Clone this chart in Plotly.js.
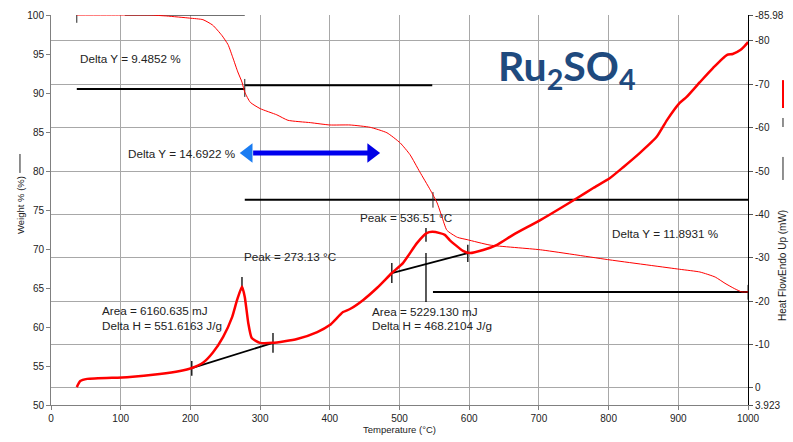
<!DOCTYPE html>
<html>
<head>
<meta charset="utf-8">
<script src="https://cdn.plot.ly/plotly-3.0.1.min.js"></script>
<style>html,body{margin:0;padding:0;background:#fff;}#chart{width:793px;height:442px;}</style>
</head>
<body>
<div id="chart"></div>
<script>
// ---- Weight % curve (left axis) ----
const weightT = [37, 100, 142, 166, 199, 218, 232, 245, 254, 261, 268, 274, 278, 286, 300, 324, 340, 372, 400, 429, 458, 482, 501, 515, 529, 544, 554, 561, 568, 583, 597, 630, 702, 802, 902, 931, 953, 967, 981, 991, 1000];
const weightW = [100, 100, 100, 99.87, 99.6, 99.4, 98.7, 97.4, 96.2, 94.5, 92.7, 91.4, 90.1, 88.8, 88.0, 87.2, 86.5, 86.2, 85.9, 85.9, 85.6, 84.9, 83.6, 82.1, 79.9, 77.6, 75.9, 74.1, 72.4, 71.5, 71.2, 70.5, 69.9, 68.6, 67.4, 67.05, 66.4, 65.6, 64.9, 64.5, 64.5];

// ---- Heat flow curve (right axis, Endo Up) ----
const heatT = [37, 42, 52, 109, 156, 185, 202, 218, 232, 247, 260, 267, 274, 278, 283, 288, 300, 318, 353, 382, 400, 419, 429, 448, 468, 489, 505, 525, 539, 547, 558, 565, 572, 591, 601, 620, 640, 663, 702, 755, 778, 802, 821, 845, 869, 884, 902, 912, 931, 950, 970, 978, 989, 999, 1000];
const heatH = [-0.2, -1.6, -2.1, -2.5, -3.2, -3.9, -4.6, -5.8, -8.1, -11.8, -16.4, -20.3, -23.4, -21.0, -15.0, -11.5, -10.4, -10.4, -11.3, -12.9, -14.5, -17.5, -18.2, -20.3, -23.1, -26.5, -28.8, -33.4, -35.7, -36.0, -35.7, -35.3, -34.1, -31.6, -31.1, -31.8, -33.0, -35.3, -38.7, -43.8, -46.1, -48.4, -50.9, -54.2, -57.9, -61.8, -65.7, -67.1, -70.5, -73.8, -76.8, -77.0, -77.9, -79.5, -79.8];

// ---- Peak baselines (heat flow units) ----
const base1T = [202, 318.5];
const base1H = [-4.6, -10.4];
const base2T = [489, 598];
const base2H = [-26.5, -31.1];
// short vertical markers on heat-flow analysis
const markT2  = [202, 318.5, 274, 489, 598, 538, 538];
const markLo2 = [-6.2, -12.7, -25.6, -28.8, -33.0, -36.9, -31.1];
const markHi2 = [-2.8, -8.1, -22.5, -24.2, -29.05, -33.7, -19.8];

// ---- Weight step lines (weight units) ----
const stepTopT = [106, 278];      const stepTopW = [100, 100];
const step1T = [37, 278];         const step1W = [90.5, 90.5];
const step2T = [278, 547];        const step2W = [91.0, 91.0];
const step3T = [278, 1000];       const step3W = [76.3, 76.3];
const step4T = [548, 1000];       const step4W = [64.5, 64.5];
const markT1  = [37, 278, 548, 1000];
const markLo1 = [99.0, 89.5, 75.3, 63.5];
const markHi1 = [100, 91.8, 77.3, 65.4];

// ---- Double arrow (weight units) ----
const arrowLineT = [290, 456];
const arrowW = 82.3;
const arrowHeadT = [283, 460];

// ---- Axis ticks ----
const xTicks = [0, 100, 200, 300, 400, 500, 600, 700, 800, 900, 1000];
const yTicks = [50, 55, 60, 65, 70, 75, 80, 85, 90, 95, 100];
const y2Ticks = [-85.98, -80, -70, -60, -50, -40, -30, -20, -10, 0, 3.923];
const y2TickText = ['-85.98', '-80', '-70', '-60', '-50', '-40', '-30', '-20', '-10', '0', '3.923'];

// ---- Labels ----
const labels = [
  {t: 'Delta Y = 9.4852 %', x: 38.7, y: 94.36},
  {t: 'Delta Y = 14.6922 %', x: 107.6, y: 82.3},
  {t: 'Peak = 273.13 °C', x: 274, y: 69.0},
  {t: 'Peak = 536.51 °C', x: 440.5, y: 74.0},
  {t: 'Delta Y = 11.8931 %', x: 802, y: 72.05},
  {t: 'Area = 6160.635 mJ', x: 70.3, y: 62.1},
  {t: 'Delta H = 551.6163 J/g', x: 70.3, y: 60.13},
  {t: 'Area = 5229.130 mJ', x: 457.7, y: 62.05},
  {t: 'Delta H = 468.2104 J/g', x: 457.7, y: 60.13}
];

function vmarks(ts, lo, hi) {
  const xs = [], ys = [];
  ts.forEach((t, i) => { xs.push(t, t, null); ys.push(lo[i], hi[i], null); });
  return {x: xs, y: ys};
}

const FONT = 'Liberation Sans, Arial, sans-serif';
const traces = [];
function line(x, y, axis, color, width, smooth) {
  const ln = {color: color, width: width};
  if (smooth) { ln.shape = 'spline'; ln.smoothing = 0.5; }
  traces.push({x: x, y: y, yaxis: axis, type: 'scatter', mode: 'lines',
    line: ln, hoverinfo: 'skip', showlegend: false, cliponaxis: false});
}
line(stepTopT, stepTopW, 'y', '#404040', 1.5);
line(step1T, step1W, 'y', '#000', 2);
line(step2T, step2W, 'y', '#000', 2);
line(step3T, step3W, 'y', '#000', 2);
line(step4T, step4W, 'y', '#000', 2);
const m1 = vmarks(markT1, markLo1, markHi1);
traces.push({x: m1.x, y: m1.y, yaxis: 'y', mode: 'lines', line: {color: '#222', width: 1}, showlegend: false, hoverinfo: 'skip'});
line(base1T, base1H, 'y2', '#000', 1.8);
line(base2T, base2H, 'y2', '#000', 1.8);
const m2 = vmarks(markT2, markLo2, markHi2);
traces.push({x: m2.x, y: m2.y, yaxis: 'y2', mode: 'lines', line: {color: '#000', width: 1.3}, showlegend: false, hoverinfo: 'skip'});
line(weightT, weightW, 'y', '#ff0000', 1, true);
line(heatT, heatH, 'y2', '#ff0000', 2.5, true);
// arrow
line(arrowLineT, [arrowW, arrowW], 'y', '#0000ee', 5);
traces.push({x: [arrowHeadT[0]], y: [arrowW], yaxis: 'y', mode: 'markers',
  marker: {symbol: 'triangle-left', size: 17, color: '#1a7cf2', line: {width: 0}}, showlegend: false, hoverinfo: 'skip'});
traces.push({x: [arrowHeadT[1]], y: [arrowW], yaxis: 'y', mode: 'markers',
  marker: {symbol: 'triangle-right', size: 17, color: '#0000e6', line: {width: 0}}, showlegend: false, hoverinfo: 'skip'});

const annotations = labels.map(l => ({
  text: l.t, x: l.x, y: l.y, xref: 'x', yref: 'y', xanchor: 'left', yanchor: 'middle',
  showarrow: false, font: {family: FONT, size: 11.7, color: '#222'}
}));
annotations.push({text: 'Ru<sub>2</sub>SO<sub>4</sub>', xref: 'paper', yref: 'paper', x: 0.74, y: 0.862,
  xanchor: 'center', yanchor: 'middle', showarrow: false,
  font: {family: 'Lato, sans-serif', size: 41, color: '#1f4a7e', weight: 'bold'}});
annotations.push({text: 'Weight % (%)', xref: 'paper', yref: 'paper', x: -0.0445, y: 0.5128,
  xanchor: 'center', yanchor: 'middle', textangle: -90, showarrow: false, font: {family: FONT, size: 9.5, color: '#222'}});
annotations.push({text: 'Heat FlowEndo Up (mW)', xref: 'paper', yref: 'paper', x: 1.0502, y: 0.359,
  xanchor: 'center', yanchor: 'middle', textangle: -90, showarrow: false, font: {family: FONT, size: 10, color: '#222'}});
annotations.push({text: 'Temperature (°C)', xref: 'paper', yref: 'paper', x: 0.5, y: -0.064,
  xanchor: 'center', yanchor: 'middle', showarrow: false, font: {family: FONT, size: 9.5, color: '#222'}});

function seg(x, y0, y1, color, w) {
  return {type: 'line', xref: 'paper', yref: 'paper', x0: x, x1: x, y0: y0, y1: y1, line: {color: color, width: w}};
}

const layout = {
  width: 793, height: 442,
  margin: {l: 51, r: 45, t: 15, b: 37},
  paper_bgcolor: '#fff', plot_bgcolor: '#fff',
  showlegend: false,
  font: {family: FONT, size: 10, color: '#222'},
  xaxis: {range: [0, 1000], tickvals: xTicks, showgrid: true, gridcolor: '#a8a8a8', gridwidth: 1,
    zeroline: false, showline: true, linecolor: '#808080', linewidth: 1, ticks: 'outside', ticklen: 4,
    tickcolor: '#808080', tickfont: {size: 10, color: '#222'}},
  yaxis: {range: [50, 100], tickvals: yTicks, showgrid: false, zeroline: false, showline: true,
    linecolor: '#808080', linewidth: 1, ticks: 'outside', ticklen: 4, tickcolor: '#808080',
    tickfont: {size: 10, color: '#222'}},
  yaxis2: {overlaying: 'y', side: 'right', range: [3.923, -85.98], tickvals: y2Ticks, ticktext: y2TickText,
    showgrid: true, gridcolor: '#a8a8a8', gridwidth: 1, zeroline: false, showline: true, linecolor: '#000',
    linewidth: 1, ticks: 'outside', ticklen: 4, tickcolor: '#555', tickfont: {size: 10, color: '#222'}},
  annotations: annotations,
  shapes: [
    seg(-0.0445, 0.595, 0.6436, '#222', 1),
    seg(1.0502, 0.577, 0.636, '#222', 1),
    seg(1.0502, 0.7128, 0.7359, '#222', 1),
    seg(1.0502, 0.7615, 0.833, '#ff0000', 2)
  ]
};

Plotly.newPlot('chart', traces, layout, {displayModeBar: false, staticPlot: true});
</script>
</body>
</html>
